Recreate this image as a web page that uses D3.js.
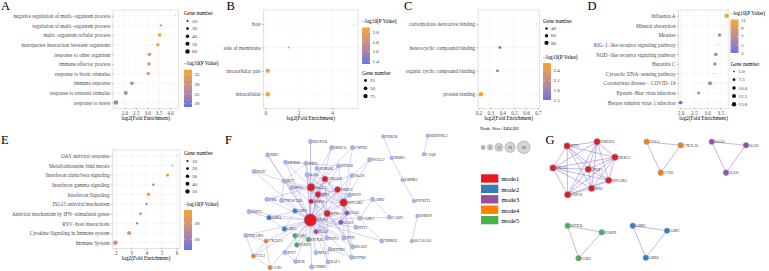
<!DOCTYPE html>
<html lang="en">
<head>
<meta charset="UTF-8">
<title>Enrichment dot plots and PPI network</title>
<script src="https://d3js.org/d3.v7.min.js"></script>
<style>
  body { margin: 0; background: #fff; }
  svg { display: block; }
</style>
</head>
<body>
<svg id="fig" width="769" height="271"></svg>
<script>
// ---------- data ----------
// A: GO biological process
const aTerms = ["negative regulation of multi−organism process", "regulation of multi−organism process",
  "multi−organism cellular process", "interspecies interaction between organisms", "response to other organism",
  "immune effector process", "response to biotic stimulus", "immune response", "response to external stimulus",
  "response to stress"];
const aFold = [4.25, 3.60, 3.55, 3.47, 3.10, 3.08, 3.05, 2.33, 2.06, 1.63];
const aGenes = [17, 20, 40, 40, 41, 36, 40, 42, 46, 62];
const aLogP = [18.3, 21, 37.6, 36.5, 33.5, 29.5, 34, 25.5, 25, 23];

// B: GO cellular component
const bTerms = ["host", "side of membrane", "intracellular part", "intracellular"];
const bFold = [5.3, 1.4, 0.15, 0.15];
const bGenes = [3, 12, 70, 85];
const bLogP = [1.35, 2.05, 1.98, 2.09];

// C: GO molecular function
const cTerms = ["carbohydrate derivative binding", "heterocyclic compound binding", "organic cyclic compound binding", "protein binding"];
const cFold = [0.69, 0.38, 0.36, 0.22];
const cGenes = [30, 48, 47, 92];
const cLogP = [1.5, 1.62, 1.6, 2.64];

// D: KEGG
const dTerms = ["Influenza A", "Mineral absorption", "Measles", "RIG−I−like receptor signaling pathway",
  "NOD−like receptor signaling pathway", "Hepatitis C", "Cytosolic DNA−sensing pathway",
  "Coronavirus disease − COVID−19", "Epstein−Barr virus infection", "Herpes simplex virus 1 infection"];
const dFold = [3.74, 3.62, 3.47, 3.43, 3.33, 3.29, 3.22, 3.11, 2.68, 2.0];
const dGenes = [16, 4.5, 10, 4.5, 11, 10, 4.5, 12.5, 7, 11];
const dLogP = [11.2, 4.6, 6.8, 4.0, 6.9, 6.5, 4.2, 6.3, 3.5, 3.0];

// E: Reactome
const eTerms = ["OAS antiviral response", "Metallothioneins bind metals", "Interferon alpha/beta signaling",
  "Interferon gamma signaling", "Interferon Signaling", "ISG15 antiviral mechanism",
  "Antiviral mechanism by IFN−stimulated genes", "RSV−host interactions", "Cytokine Signaling in Immune system",
  "Immune System"];
const eFold = [6.02, 5.73, 5.4, 4.47, 4.15, 4.02, 3.62, 3.4, 2.87, 1.97];
const eGenes = [5, 6, 25, 15, 32, 12, 14, 12, 42, 55];
const eLogP = [3.3, 5, 26, 12, 28.3, 6, 8.5, 6, 20, 19];

// tick / legend breaks
const aTicks = [2, 2.5, 3, 3.5, 4], bTicks = [0, 2, 4], cTicks = [0.2, 0.3, 0.4, 0.5, 0.6, 0.7];
const dTicks = [2, 2.5, 3, 3.5], eTicks = [2, 3, 4, 5, 6];
const aGeneBreaks = [20, 30, 40, 50, 60], bGeneBreaks = [25, 50, 75], cGeneBreaks = [40, 60, 80];
const dGeneBreaks = [5, 7.5, 10, 12.5, 15], eGeneBreaks = [10, 20, 30, 40, 50];
const aPBreaks = [20, 25, 30, 35], bPBreaks = [1.4, 1.6, 1.8, 2.0], cPBreaks = [1.5, 1.8, 2.1, 2.4];
const dPBreaks = [3, 5, 7, 9, 11], ePBreaks = [10, 20];

// F: PPI network  [name, module (0 = none), degree]
const fNodes = [
  ["SPATS2L",0,6],["HERC6",0,6],["CMTR1",0,6],["TOR1B",0,5],["SERPING1",0,5],["C1QB",0,5],["FKBP5",0,5],["NCOA7",0,6],
  ["ZBP1",0,6],["DDX60",0,6],["IFIH1",0,6],["DDX60L",0,6],["DHX58",0,6],["TLR7",0,6],["OASL",0,6],["UBE2L6",1,9],
  ["ISG20",0,6],["LMNB1",0,5],["IRF7",0,6],["IFI35",0,6],["ISG15",1,12],["HERC5",1,9],["MX1",1,9],["BST2",0,6],
  ["PML",0,6],["TNFSF13B",0,6],["USP18",1,7],["EIF2AK2",1,12],["AIM2",0,6],["DYNLT1",0,5],["PSPT1",0,6],["GBP1",2,7],
  ["IFIT1",1,10],["OAS1",3,7],["DHRS9",0,5],["CASP1",0,6],["CASP5",0,6],["GBP4",2,7],["STAT1",1,20],["OAS3",3,7],
  ["IFIT2",0,6],["GBP5",2,7],["OAS2",3,7],["JAK2",5,7],["TNFAIP6",0,6],["DTX3L",5,7],["IFIT3",0,6],["IFIT5",0,6],
  ["CXCL10",4,6],["TRIM22",0,6],["SLC16A10",0,5],["PARP9",5,7],["RSAD2",0,6],["IFITM3",0,6],["IFI27",0,6],["MT2A",0,6],
  ["CCL2",4,6],["IFITM1",0,6],["IFI6",0,6],["XAF1",0,6],["CHMP5",0,6],["CCR1",4,6]
];
// layout units (0-100 box)
const fLayout = {
  SPATS2L:[35.3,6.8], HERC6:[45.8,11.2], CMTR1:[56.3,11.1], TOR1B:[71.7,3.2], SERPING1:[93.9,2.6],
  C1QB:[92,15.9], FKBP5:[75.8,18.6], NCOA7:[64.8,19.8], ZBP1:[13.8,16.4], DDX60:[22.8,21.6],
  IFIH1:[33,22.4], DDX60L:[38.5,25.9], DHX58:[49.3,24.3], TLR7:[7.1,28.2], OASL:[33.5,30.5],
  UBE2L6:[42.5,33.6], ISG20:[56,31.1], LMNB1:[81.3,34.3], IRF7:[22,35], IFI35:[25.9,39.8],
  ISG15:[35.5,39.5], HERC5:[48.8,41.1], MX1:[39,44.6], BST2:[54.8,45], PML:[13.5,48.1],
  TNFSF13B:[20.8,48.9], USP18:[35.5,49.6], EIF2AK2:[51.8,50.4], AIM2:[66.3,48.1], DYNLT1:[87,49.3],
  PSPT1:[4.5,56.9], GBP1:[27.5,56.4], IFIT1:[43.6,58.2], OAS1:[53.5,57.9], DHRS9:[88.7,60],
  CASP1:[60,61.6], CASP5:[74.7,60.9], GBP4:[14.5,61.2], STAT1:[35.2,62.9], OAS3:[50.4,64.5],
  IFIT2:[58,68.1], GBP5:[22.2,69.3], OAS2:[38,71.2], JAK2:[27.5,74.1], TNFAIP6:[2.9,73.9],
  DTX3L:[34.2,76.8], IFIT3:[43.4,75.9], IFIT5:[52,75.7], CXCL10:[13,77.9], TRIM22:[70.9,77.9],
  SLC16A10:[85.9,77.9], PARP9:[28.4,80.7], RSAD2:[56.3,82.1], IFITM3:[45,83.9], IFI27:[22.5,86.1],
  MT2A:[38,86.2], CCL2:[6.7,88.6], IFITM1:[55.8,89.6], IFI6:[27.8,92.5], XAF1:[44,92.9],
  CHMP5:[35.8,96.4], CCR1:[15,96.9]
};
const fEdges = [
  ["TOR1B","FKBP5"],["FKBP5","LMNB1"],["LMNB1","DYNLT1"],["SERPING1","C1QB"],["DHRS9","SLC16A10"],
  ["AIM2","CASP1"],["AIM2","CASP5"],["CASP1","CASP5"],["AIM2","EIF2AK2"],["CASP1","STAT1"],["CASP1","EIF2AK2"],
  ["CXCL10","CCL2"],["CXCL10","CCR1"],["CCL2","CCR1"],["TNFAIP6","CXCL10"],["TNFAIP6","CCL2"],["TNFAIP6","STAT1"],
  ["CXCL10","STAT1"],["CCL2","STAT1"],["CCR1","STAT1"],
  ["GBP1","GBP4"],["GBP1","GBP5"],["GBP4","GBP5"],["GBP1","STAT1"],["GBP4","STAT1"],["GBP5","STAT1"],
  ["PSPT1","STAT1"],["PSPT1","GBP4"],
  ["JAK2","DTX3L"],["JAK2","PARP9"],["DTX3L","PARP9"],["JAK2","STAT1"],["DTX3L","STAT1"],["PARP9","STAT1"],
  ["OAS1","OAS3"],["OAS1","OAS2"],["OAS3","OAS2"],["OAS1","STAT1"],["OAS3","STAT1"],["OAS2","STAT1"],
  ["OAS1","EIF2AK2"],["OAS3","EIF2AK2"],["OAS2","EIF2AK2"],["OAS1","IFIT1"],["OAS2","IFIT1"],["OAS1","ISG15"],
  ["SPATS2L","ISG15"],["SPATS2L","STAT1"],["HERC6","ISG15"],["HERC6","STAT1"],["CMTR1","ISG15"],["CMTR1","EIF2AK2"],
  ["NCOA7","ISG20"],["NCOA7","EIF2AK2"],["ZBP1","IRF7"],["ZBP1","STAT1"],["TLR7","IRF7"],["TLR7","STAT1"],
  ["DDX60","ISG15"],["DDX60","STAT1"],["DDX60","IFIH1"],["IFIH1","ISG15"],["IFIH1","DHX58"],["IFIH1","STAT1"],["IFIH1","IRF7"],
  ["DDX60L","ISG15"],["DDX60L","EIF2AK2"],["DHX58","ISG15"],["DHX58","EIF2AK2"],["DHX58","STAT1"],
  ["OASL","ISG15"],["OASL","STAT1"],["OASL","EIF2AK2"],["OASL","UBE2L6"],
  ["UBE2L6","ISG15"],["UBE2L6","HERC5"],["UBE2L6","STAT1"],["UBE2L6","EIF2AK2"],["UBE2L6","MX1"],["UBE2L6","IFIT1"],["UBE2L6","USP18"],
  ["ISG20","EIF2AK2"],["ISG20","ISG15"],["ISG20","STAT1"],
  ["IRF7","ISG15"],["IRF7","STAT1"],["IRF7","MX1"],["IRF7","IFIT1"],
  ["IFI35","STAT1"],["IFI35","ISG15"],["IFI35","IRF7"],
  ["ISG15","HERC5"],["ISG15","MX1"],["ISG15","USP18"],["ISG15","EIF2AK2"],["ISG15","IFIT1"],["ISG15","STAT1"],
  ["ISG15","RSAD2"],["ISG15","IFIT3"],["ISG15","XAF1"],["ISG15","BST2"],
  ["HERC5","EIF2AK2"],["HERC5","STAT1"],["HERC5","MX1"],["HERC5","USP18"],["HERC5","IFIT1"],
  ["MX1","STAT1"],["MX1","EIF2AK2"],["MX1","USP18"],["MX1","IFIT1"],
  ["BST2","STAT1"],["BST2","EIF2AK2"],["PML","STAT1"],["PML","ISG15"],["TNFSF13B","STAT1"],["TNFSF13B","IRF7"],
  ["USP18","STAT1"],["USP18","EIF2AK2"],["USP18","IFIT1"],
  ["EIF2AK2","STAT1"],["EIF2AK2","IFIT1"],["EIF2AK2","IFIT2"],["EIF2AK2","IFIT5"],["EIF2AK2","RSAD2"],
  ["EIF2AK2","IFITM1"],["EIF2AK2","TRIM22"],
  ["IFIT1","STAT1"],["IFIT1","IFIT3"],["IFIT1","IFIT5"],["IFIT1","RSAD2"],
  ["IFIT2","STAT1"],["IFIT3","STAT1"],["IFIT5","STAT1"],["RSAD2","STAT1"],["IFITM3","STAT1"],["IFI27","STAT1"],
  ["MT2A","STAT1"],["IFITM1","STAT1"],["IFI6","STAT1"],["XAF1","STAT1"],["CHMP5","STAT1"],["TRIM22","STAT1"],
  ["IFI6","IFI27"],["IFITM1","IFITM3"]
];

// G: modules (each module is a clique)
const gNodes = [["IFIT1",1],["UBE2L6",1],["HERC5",1],["ISG15",1],["STAT1",1],["EIF2AK2",1],["MX1",1],["USP18",1],
  ["CCL2",4],["CXCL10",4],["CCR1",4],["OAS3",3],["OAS2",3],["OAS1",3],
  ["DTX3L",5],["PARP9",5],["JAK2",5],["GBP5",2],["GBP1",2],["GBP4",2]];
const gLayout = {IFIT1:[10.5,8.1], UBE2L6:[24.8,5], HERC5:[33.3,16.5], ISG15:[3.8,24.4], STAT1:[20.6,25.4],
  EIF2AK2:[30.3,33.6], MX1:[22.2,39.5], USP18:[10.8,44.2], CCL2:[48.4,5], CXCL10:[64.6,7.6], CCR1:[55.1,27.9],
  OAS3:[79.4,5], OAS2:[95.7,7.6], OAS1:[86.2,27.9], DTX3L:[10.8,67.2], PARP9:[27,72.1], JAK2:[16,91.3],
  GBP5:[41.8,67.2], GBP1:[58.1,70.9], GBP4:[48,90.9]};

const modeNames = ["mode1", "mode2", "mode3", "mode4", "mode5"];
const sizeBreaks = [6, 8, 12, 16, 20];

// ---------- drawing ----------
const FONT = "'Liberation Serif', 'Times New Roman', serif";
const LOW = "#6175e3", HIGH = "#f4a72b";
const R_MIN = 0.45, R_MAX = 2.3;

const svg = d3.select("#fig").attr("font-family", FONT);
svg.append("rect").attr("width", 769).attr("height", 271).attr("fill", "#fff");
const defs = svg.append("defs");

const panels = [
  {key: "A", terms: aTerms, fold: aFold, genes: aGenes, logp: aLogP, xTicks: aTicks, xFmt: ".1f",
   geneBreaks: aGeneBreaks, geneFmt: "d", pBreaks: aPBreaks, pFmt: "d",
   x0: 113, x1: 178.6, y0: 10, y1: 108.3, lx: 1, ly: 10,
   legX: 184, geneY: 15, geneStep: 7.6, colorY: 65.2, barH: 37.3},
  {key: "B", terms: bTerms, fold: bFold, genes: bGenes, logp: bLogP, xTicks: bTicks, xFmt: "d",
   geneBreaks: bGeneBreaks, geneFmt: "d", pBreaks: bPBreaks, pFmt: ".1f",
   x0: 263.5, x1: 358, y0: 10, y1: 108.3, lx: 226.5, ly: 10,
   legX: 362, geneY: 74.5, geneStep: 7.8, colorY: 23, barH: 36.5},
  {key: "C", terms: cTerms, fold: cFold, genes: cGenes, logp: cLogP, xTicks: cTicks, xFmt: ".1f",
   geneBreaks: cGeneBreaks, geneFmt: "d", pBreaks: cPBreaks, pFmt: ".1f",
   x0: 478, x1: 539.5, y0: 10, y1: 108.3, lx: 404, ly: 10,
   legX: 543, geneY: 22.5, geneStep: 7.2, colorY: 58.5, barH: 37},
  {key: "D", terms: dTerms, fold: dFold, genes: dGenes, logp: dLogP, xTicks: dTicks, xFmt: ".1f",
   geneBreaks: dGeneBreaks, geneFmt: ".1f", pBreaks: dPBreaks, pFmt: "d",
   x0: 678.3, x1: 729, y0: 10, y1: 108.3, lx: 587.5, ly: 10,
   legX: 730.5, geneY: 65.5, geneStep: 8.2, colorY: 15, barH: 33.5},
  {key: "E", terms: eTerms, fold: eFold, genes: eGenes, logp: eLogP, xTicks: eTicks, xFmt: "d",
   geneBreaks: eGeneBreaks, geneFmt: "d", pBreaks: ePBreaks, pFmt: "d",
   x0: 112.3, x1: 180, y0: 150, y1: 248.5, lx: 1, ly: 144,
   legX: 184, geneY: 155, geneStep: 7.6, colorY: 205.5, barH: 40}
];

panels.forEach(dotPanel);

function dotPanel(p) {
  const g = svg.append("g");
  const fx = d3.extent(p.fold), pad = (fx[1] - fx[0]) * 0.05;
  const x = d3.scaleLinear().domain([fx[0] - pad, fx[1] + pad]).range([p.x0, p.x1]);
  const y = d3.scalePoint().domain(p.terms).range([p.y0, p.y1]).padding(0.6);
  const pExt = d3.extent(p.logp);
  const col = d3.scaleLinear().domain(pExt).range([LOW, HIGH]).interpolate(d3.interpolateLab);
  const gt = d3.scaleLinear().domain(d3.extent(p.genes)).range([0, 1]).clamp(true);
  const rad = v => R_MIN + (R_MAX - R_MIN) * Math.sqrt(gt(v));

  // grid
  const step = p.xTicks[1] - p.xTicks[0];
  const dom = x.domain();
  const minor = p.xTicks.map(v => v - step / 2).concat([p.xTicks[p.xTicks.length - 1] + step / 2])
    .filter(v => v > dom[0] && v < dom[1]);
  g.selectAll(".minor").data(minor).join("line")
    .attr("x1", d => x(d)).attr("x2", d => x(d)).attr("y1", p.y0).attr("y2", p.y1)
    .attr("stroke", "#f4f4f4").attr("stroke-width", 0.3);
  g.selectAll(".major").data(p.xTicks).join("line")
    .attr("x1", d => x(d)).attr("x2", d => x(d)).attr("y1", p.y0).attr("y2", p.y1)
    .attr("stroke", "#ebebeb").attr("stroke-width", 0.45);
  g.selectAll(".hgrid").data(p.terms).join("line")
    .attr("x1", p.x0).attr("x2", p.x1).attr("y1", d => y(d)).attr("y2", d => y(d))
    .attr("stroke", "#ebebeb").attr("stroke-width", 0.45);

  // points
  g.selectAll(".pt").data(d3.range(p.terms.length)).join("circle")
    .attr("cx", i => x(p.fold[i])).attr("cy", i => y(p.terms[i]))
    .attr("r", i => rad(p.genes[i])).attr("fill", i => col(p.logp[i]));

  g.append("rect").attr("x", p.x0).attr("y", p.y0)
    .attr("width", p.x1 - p.x0).attr("height", p.y1 - p.y0)
    .attr("fill", "none").attr("stroke", "#c6c6c6").attr("stroke-width", 0.5);

  // axes
  const ax = g.append("g").attr("transform", `translate(0,${p.y1})`)
    .call(d3.axisBottom(x).tickValues(p.xTicks).tickFormat(d3.format(p.xFmt)).tickSize(1.5).tickPadding(1.2));
  const ay = g.append("g").attr("transform", `translate(${p.x0},0)`)
    .call(d3.axisLeft(y).tickSize(1.5).tickPadding(1.3));
  [ax, ay].forEach(a => {
    a.select(".domain").remove();
    a.attr("font-family", FONT).attr("font-size", 5.2).attr("color", "#4d4d4d");
    a.selectAll("line").attr("stroke", "#444").attr("stroke-width", 0.35);
  });

  g.append("text").attr("x", (p.x0 + p.x1) / 2).attr("y", p.y1 + 11.2)
    .attr("text-anchor", "middle").attr("font-size", 5.3).text("log2(Fold Enrichment)");

  g.append("text").attr("x", p.lx).attr("y", p.ly).attr("font-size", 12.5).text(p.key);

  // size legend
  const lg = g.append("g");
  lg.append("text").attr("x", p.legX).attr("y", p.geneY).attr("font-size", 5.3).text("Gene number");
  p.geneBreaks.forEach((v, i) => {
    const yy = p.geneY + 6 + i * p.geneStep;
    lg.append("circle").attr("cx", p.legX + 3.5).attr("cy", yy).attr("r", rad(v)).attr("fill", "#111");
    lg.append("text").attr("x", p.legX + 8).attr("y", yy + 1.7).attr("font-size", 5)
      .attr("fill", "#333").text(d3.format(p.geneFmt)(v));
  });

  // colour bar
  lg.append("text").attr("x", p.legX).attr("y", p.colorY).attr("font-size", 5.3).text("−log10(P Value)");
  const gid = "grad" + p.key;
  const grad = defs.append("linearGradient").attr("id", gid)
    .attr("x1", 0).attr("y1", 1).attr("x2", 0).attr("y2", 0);
  d3.range(0, 1.0001, 0.1).forEach(t => {
    grad.append("stop").attr("offset", t).attr("stop-color", col(pExt[0] + t * (pExt[1] - pExt[0])));
  });
  const barTop = p.colorY + 4.5, barBot = barTop + p.barH;
  const by = d3.scaleLinear().domain(pExt).range([barBot, barTop]);
  lg.append("rect").attr("x", p.legX).attr("y", barTop).attr("width", 8).attr("height", p.barH)
    .attr("fill", `url(#${gid})`);
  p.pBreaks.forEach(v => {
    const yy = by(v);
    lg.append("line").attr("x1", p.legX).attr("x2", p.legX + 1.6).attr("y1", yy).attr("y2", yy)
      .attr("stroke", "#fff").attr("stroke-width", 0.4);
    lg.append("line").attr("x1", p.legX + 6.4).attr("x2", p.legX + 8).attr("y1", yy).attr("y2", yy)
      .attr("stroke", "#fff").attr("stroke-width", 0.4);
    lg.append("text").attr("x", p.legX + 10.5).attr("y", yy + 1.7).attr("font-size", 5)
      .attr("fill", "#333").text(d3.format(p.pFmt)(v));
  });
}

// ---------- network F ----------
const modeColor = d3.scaleOrdinal().domain([0, 1, 2, 3, 4, 5])
  .range(["#a1bbe8", "#e41a1c", "#377eb8", "#984ea3", "#ff7f00", "#4daf4a"]);
const nodeR = d3.scaleLinear().domain([6, 20]).range([2.1, 6.3]);
const fx = d3.scaleLinear().domain([0, 100]).range([240, 440]);
const fy = d3.scaleLinear().domain([0, 100]).range([132, 272]);

const fg = svg.append("g");
fg.selectAll("line").data(fEdges).join("line")
  .attr("x1", d => fx(fLayout[d[0]][0])).attr("y1", d => fy(fLayout[d[0]][1]))
  .attr("x2", d => fx(fLayout[d[1]][0])).attr("y2", d => fy(fLayout[d[1]][1]))
  .attr("stroke", "#9f8fd8").attr("stroke-opacity", 0.8).attr("stroke-width", 0.5);
fg.selectAll("circle").data(fNodes).join("circle")
  .attr("cx", d => fx(fLayout[d[0]][0])).attr("cy", d => fy(fLayout[d[0]][1]))
  .attr("r", d => nodeR(d[2])).attr("fill", d => modeColor(d[1]))
  .attr("stroke", "#7fa3dc").attr("stroke-width", 0.6);
fg.selectAll("text.lab").data(fNodes).join("text")
  .attr("x", d => fx(fLayout[d[0]][0]) + nodeR(d[2]) + 0.3)
  .attr("y", d => fy(fLayout[d[0]][1]) + 1.3)
  .attr("font-size", 3.8).attr("fill", "#333").text(d => d[0]);
svg.append("text").attr("x", 225).attr("y", 143.5).attr("font-size", 12.5).text("F");

// F legends
svg.append("text").attr("x", 480).attr("y", 129.5).attr("font-size", 5).text("Node Size:  DEGRI");
let cx = 481;
sizeBreaks.forEach((v, i) => {
  const r = nodeR(v);
  if (i > 0) cx += nodeR(sizeBreaks[i - 1]) + r + 2.2; else cx += r;
  svg.append("circle").attr("cx", cx).attr("cy", 147.3).attr("r", r)
    .attr("fill", "#d4d4d4").attr("stroke", "#8c8c8c").attr("stroke-width", 0.5);
  svg.append("text").attr("x", cx).attr("y", 148.6).attr("text-anchor", "middle")
    .attr("font-size", v < 10 ? 3.4 : 4).attr("fill", "#333").text(v);
});
const my = d3.scaleBand().domain(modeNames).range([174.3, 224.3]).paddingInner(0.2);
modeNames.forEach((m, i) => {
  svg.append("rect").attr("x", 481).attr("y", my(m)).attr("width", 17.3).attr("height", my.bandwidth())
    .attr("fill", modeColor(i + 1));
  svg.append("text").attr("x", 501.5).attr("y", my(m) + my.bandwidth() - 1.2)
    .attr("font-size", 6.5).text(m);
});

// ---------- modules G ----------
const gx = d3.scaleLinear().domain([0, 100]).range([545, 755]);
const gy = d3.scaleLinear().domain([0, 100]).range([135, 270]);
const gEdges = [];
d3.group(gNodes, d => d[1]).forEach(members => {
  for (let i = 0; i < members.length; i++)
    for (let j = i + 1; j < members.length; j++) gEdges.push([members[i][0], members[j][0]]);
});
const gg = svg.append("g");
gg.selectAll("line").data(gEdges).join("line")
  .attr("x1", d => gx(gLayout[d[0]][0])).attr("y1", d => gy(gLayout[d[0]][1]))
  .attr("x2", d => gx(gLayout[d[1]][0])).attr("y2", d => gy(gLayout[d[1]][1]))
  .attr("stroke", "#9a86d4").attr("stroke-opacity", 0.85).attr("stroke-width", 0.7);
gg.selectAll("circle").data(gNodes).join("circle")
  .attr("cx", d => gx(gLayout[d[0]][0])).attr("cy", d => gy(gLayout[d[0]][1]))
  .attr("r", d => d[1] === 1 ? 3.2 : 2.8).attr("fill", d => modeColor(d[1]))
  .attr("stroke", "#7fa3dc").attr("stroke-width", 0.6);
gg.selectAll("text").data(gNodes).join("text")
  .attr("x", d => gx(gLayout[d[0]][0]) + 3.4).attr("y", d => gy(gLayout[d[0]][1]) + 1.3)
  .attr("font-size", 3.8).attr("fill", "#333").text(d => d[0]);
svg.append("text").attr("x", 545.5).attr("y", 143.5).attr("font-size", 12.5).text("G");
</script>
</body>
</html>
